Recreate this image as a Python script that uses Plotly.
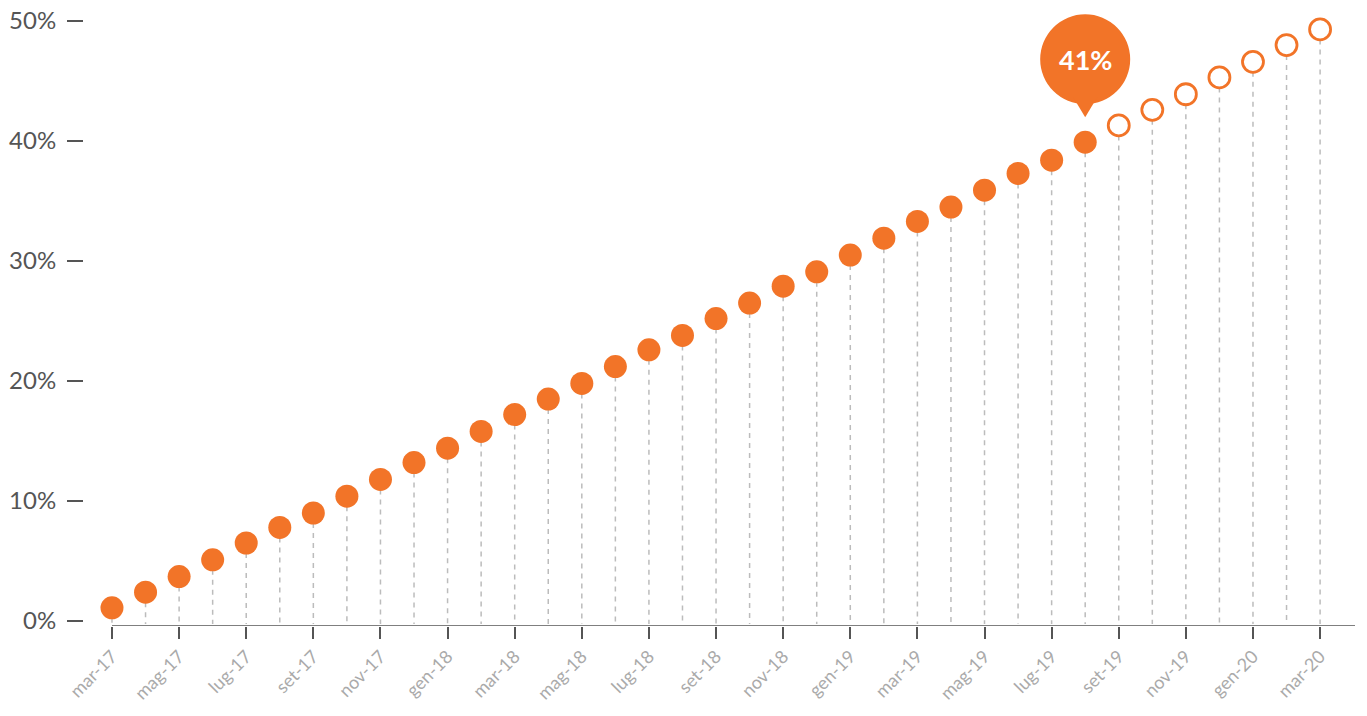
import plotly.graph_objects as go

# Monthly share (%), mar-17 .. mar-20
months = ["mar-17", "apr-17", "mag-17", "giu-17", "lug-17", "ago-17", "set-17", "ott-17",
          "nov-17", "dic-17", "gen-18", "feb-18", "mar-18", "apr-18", "mag-18", "giu-18",
          "lug-18", "ago-18", "set-18", "ott-18", "nov-18", "dic-18", "gen-19", "feb-19",
          "mar-19", "apr-19", "mag-19", "giu-19", "lug-19", "ago-19", "set-19", "ott-19",
          "nov-19", "dic-19", "gen-20", "feb-20", "mar-20"]
actual = [1.1, 2.4, 3.7, 5.1, 6.5, 7.8, 9.0, 10.4, 11.8, 13.2, 14.4, 15.8, 17.2, 18.5,
          19.8, 21.2, 22.6, 23.8, 25.2, 26.5, 27.9, 29.1, 30.5, 31.9, 33.3, 34.5, 35.9,
          37.3, 38.4, 39.9]
forecast = [41.3, 42.6, 43.9, 45.3, 46.6, 48.0, 49.3]
callout_label = "41%"
y_ticks = [0, 10, 20, 30, 40, 50]
y_tick_text = ["0%", "10%", "20%", "30%", "40%", "50%"]

ORANGE = "#F27428"
values = actual + forecast
xs = list(range(len(values)))
n_act = len(actual)
callout_idx = n_act - 1

fig = go.Figure()

# dashed drop lines from each point to the axis
lx, ly = [], []
for i, v in zip(xs, values):
    lx += [i, i, None]
    ly += [v, -0.25, None]
fig.add_trace(go.Scatter(x=lx, y=ly, mode="lines", hoverinfo="skip",
                         line=dict(color="#bcbcbc", width=1.5, dash="5px,5px")))

fig.add_trace(go.Scatter(x=xs[:n_act], y=actual, mode="markers", cliponaxis=False,
                         marker=dict(size=23, color=ORANGE, line=dict(width=0))))
fig.add_trace(go.Scatter(x=xs[n_act:], y=forecast, mode="markers", cliponaxis=False,
                         marker=dict(size=21, color="white", line=dict(width=2.8, color=ORANGE))))

# x axis baseline
fig.add_shape(type="line", x0=0, x1=37.04, y0=-0.417, y1=-0.417, xref="x", yref="y",
              line=dict(color="#555555", width=1.5), layer="above")

# callout bubble above the last actual point
cy = actual[callout_idx]
fig.add_shape(type="circle", xref="x", yref="y", xsizemode="pixel", ysizemode="pixel",
              xanchor=callout_idx, yanchor=cy, x0=-45, x1=45, y0=38, y1=128,
              fillcolor=ORANGE, line=dict(width=0), layer="above")
fig.add_shape(type="path", xref="x", yref="y", xsizemode="pixel", ysizemode="pixel",
              xanchor=callout_idx, yanchor=cy, path="M -12 45 L 12 45 L 0 25 Z",
              fillcolor=ORANGE, line=dict(width=0), layer="above")
fig.add_annotation(x=callout_idx, y=cy, yshift=83, text="<b>" + callout_label + "</b>",
                   showarrow=False, font=dict(family="Lato", size=27, color="white"))

fig.update_layout(
    width=1367, height=716,
    margin=dict(l=84, r=12, t=10, b=90, autoexpand=False),
    paper_bgcolor="white", plot_bgcolor="white",
    showlegend=False,
    font=dict(family="Lato"),
    xaxis=dict(range=[-0.834, 37.04], showgrid=False, zeroline=False, showline=False,
               automargin=False,
               tickmode="array", tickvals=xs[::2], ticktext=months[::2],
               ticks="outside", ticklen=12, tickwidth=1.5, tickcolor="#555555",
               tickangle=-45, tickfont=dict(size=18, color="#aaaaaa")),
    yaxis=dict(range=[-0.417, 50.92], showgrid=False, zeroline=False, showline=False,
               automargin=False,
               tickmode="array", tickvals=y_ticks, ticktext=y_tick_text,
               ticks="outside", ticklen=16, tickwidth=2, tickcolor="#555555",
               ticklabelstandoff=6, tickfont=dict(size=24, color="#555555")),
)

fig.write_html("out.html")
